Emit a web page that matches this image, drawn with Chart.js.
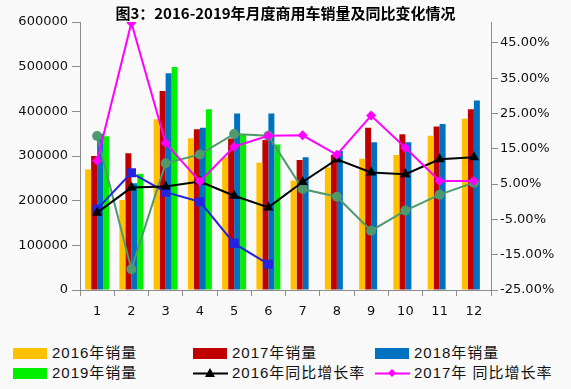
<!DOCTYPE html>
<html>
<head>
<meta charset="utf-8">
<script src="https://cdn.jsdelivr.net/npm/chart.js@4"></script>
<style>
  html, body { margin:0; padding:0; background:#f9f9f9; }
  #wrap { position:relative; width:571px; height:389px; }
  #chart { position:absolute; left:0; top:0; }
  .lg { position:absolute; font:15px "Liberation Sans","Noto Sans CJK SC",sans-serif; color:#111; letter-spacing:1px; line-height:16px; white-space:nowrap; }
  .sw { position:absolute; }
</style>
</head>
<body>
<div id="wrap">
  <canvas id="chart" width="571" height="335"></canvas>
  <div id="legend"></div>
</div>
<script>
// ----- data -----
const months = ['1','2','3','4','5','6','7','8','9','10','11','12'];
const sales2016 = [270000, 201500, 382000, 340000, 297000, 285000, 245000, 274500, 294000, 302000, 345500, 383500];
const sales2017 = [300000, 306000, 445500, 360000, 339000, 336000, 291000, 302000, 363000, 348500, 366000, 404500];
const sales2018 = [350000, 239000, 485000, 363000, 395000, 395000, 297000, 311000, 331000, 331000, 371500, 424500];
const sales2019 = [344000, 260000, 499000, 404500, 347000, 326000, null, null, null, null, null, null];
const yoy2016 = [-3.1, 4.0, 4.3, 5.7, 1.7, -1.6, 5.6, 12.0, 8.3, 7.8, 12.0, 12.6];
const yoy2017 = [11.6, 50.7, 16.6, 5.7, 15.6, 18.7, 18.8, 13.3, 24.4, 15.3, 5.9, 5.9];
const yoy2018 = [-2.1, 8.2, 2.7, 0.0, -11.8, -17.7, null, null, null, null, null, null];
const yoy2019 = [18.6, -19.1, 10.9, 13.4, 19.2, 18.7, 3.6, 1.4, -8.2, -2.5, 2.0, 5.4];
const leftTicks = [0, 100000, 200000, 300000, 400000, 500000, 600000];
const rightTicks = [-25, -15, -5, 5, 15, 25, 35, 45];

const FONT = '"DejaVu Sans", sans-serif';
const AX = '#8c8c8c';

const bar = (label, data, color) => ({
  type:'bar', label, data, backgroundColor:color, borderWidth:0,
  yAxisID:'y', order:10, categoryPercentage:0.70, barPercentage:1.0
});
const line = (label, data, color, style, r, order) => ({
  type:'line', label, data, borderColor:color, backgroundColor:color,
  borderWidth:2, pointStyle:style, pointRadius:r, pointBorderWidth:0,
  yAxisID:'y1', order, spanGaps:false, tension:0
});

new Chart(document.getElementById('chart'), {
  data: {
    labels: months,
    datasets: [
      bar('2016年销量', sales2016, '#FFC000'),
      bar('2017年销量', sales2017, '#C00000'),
      bar('2018年销量', sales2018, '#0070C0'),
      bar('2019年销量', sales2019, '#00F000'),
      line('2019年同比增长率', yoy2019, '#4E9A6C', 'circle', 5, 4),
      line('2018年同比增长率', yoy2018, '#2424E0', 'rect', 6.5, 3),
      line('2016年同比增长率', yoy2016, '#000000', 'triangle', 6, 2),
      line('2017年同比增长率', yoy2017, '#FF00FF', 'rectRot', 5, 1),
    ]
  },
  options: {
    responsive:false, animation:false,
    layout:{ padding:{ left:0, right:0, top:0, bottom:0 } },
    plugins:{
      legend:{ display:false }, tooltip:{ enabled:false },
      title:{ display:true, text:'图3：2016-2019年月度商用车销量及同比变化情况',
        color:'#000', font:{ family:'"Noto Sans CJK SC", sans-serif', size:15, weight:'bold' },
        padding:{ top:4, bottom:0 } }
    },
    scales:{
      x:{
        grid:{ drawOnChartArea:false, offset:true, tickLength:6, color:AX },
        border:{ color:AX },
        ticks:{ color:'#111', font:{ family:FONT, size:13 }, padding:8 },
        afterFit: s => { s.height = 45; }
      },
      y:{
        position:'left', min:0, max:600000,
        grid:{ drawOnChartArea:false, tickLength:8, color:AX },
        border:{ color:AX },
        afterBuildTicks: s => { s.ticks = leftTicks.map(v => ({ value:v })); },
        ticks:{ color:'#111', font:{ family:FONT, size:13 }, padding:4,
          callback: v => String(v) },
        afterFit: s => { s.width = 80; }
      },
      y1:{
        position:'right', min:-25, max:50.9,
        grid:{ drawOnChartArea:false, tickLength:7, color:AX },
        border:{ color:AX },
        afterBuildTicks: s => { s.ticks = rightTicks.map(v => ({ value:v })); },
        ticks:{ color:'#111', font:{ family:FONT, size:13 }, padding:2,
          callback: v => v.toFixed(2) + '%' },
        afterFit: s => { s.width = 80; }
      }
    }
  }
});

// ----- HTML legend (six entries, as in the reference) -----
const legendItems = [
  { text:'2016年销量', kind:'box', color:'#FFC000', x:13, y:348 },
  { text:'2017年销量', kind:'box', color:'#C00000', x:193, y:348 },
  { text:'2018年销量', kind:'box', color:'#0070C0', x:375, y:348 },
  { text:'2019年销量', kind:'box', color:'#00F000', x:13, y:368 },
  { text:'2016年同比增长率', kind:'tri', color:'#000000', x:193, y:368 },
  { text:'2017年 同比增长率', kind:'dia', color:'#FF00FF', x:375, y:368 },
];
const lg = document.getElementById('legend');
lg.innerHTML = legendItems.map(it => {
  let sw;
  if (it.kind === 'box') {
    sw = `<div class="sw" style="left:${it.x}px;top:${it.y}px;width:34px;height:11px;background:${it.color}"></div>`;
  } else {
    const mk = it.kind === 'tri'
      ? `<polygon points="17,0 22,9 12,9" fill="${it.color}"/>`
      : `<polygon points="17,1 21,5 17,9 13,5" fill="${it.color}"/>`;
    sw = `<svg class="sw" style="left:${it.x}px;top:${it.y}px" width="35" height="11">
      <line x1="0" y1="5.5" x2="35" y2="5.5" stroke="${it.color}" stroke-width="2"/>${mk}</svg>`;
  }
  return sw + `<div class="lg" style="left:${it.x + 39}px;top:${it.y - 3}px">${it.text}</div>`;
}).join('');
</script>
</body>
</html>
